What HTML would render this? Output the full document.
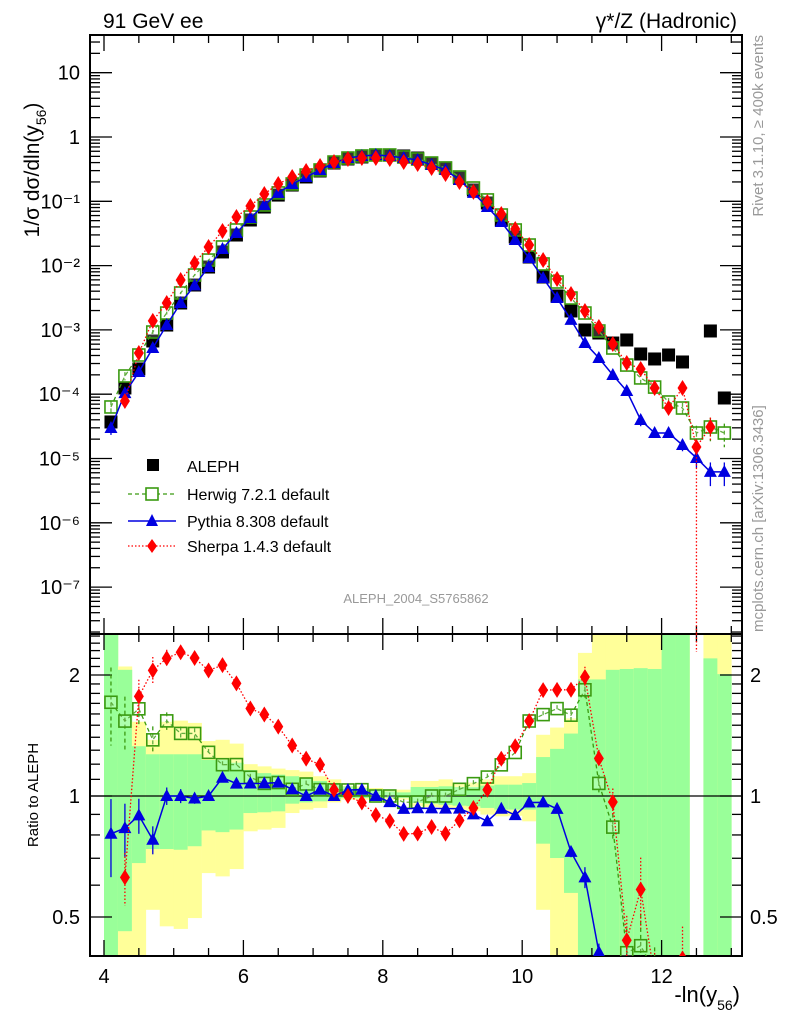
<!DOCTYPE html>
<html><head><meta charset="utf-8"><style>
html,body{margin:0;padding:0;background:#fff;overflow:hidden;width:786px;height:1024px;}
svg{display:block;position:absolute;left:0;top:0;overflow:hidden;font-family:"Liberation Sans",sans-serif;}
</style></head><body>
<svg id="chart" width="786" height="1024" viewBox="0 0 786 1024" xmlns="http://www.w3.org/2000/svg">
<g id="bands"></g>
<g id="grid"></g>
<g id="series"></g>
<text x="103" y="28" font-size="21">91 GeV ee</text>
<text x="737" y="28" font-size="21" text-anchor="end">γ*/Z (Hadronic)</text>
<text transform="translate(39,170) rotate(-90)" font-size="21" text-anchor="middle">1/σ  dσ/dln(y<tspan font-size="14" dy="7">56</tspan><tspan dy="-7">)</tspan></text>
<text transform="translate(38,795) rotate(-90)" font-size="15" text-anchor="middle">Ratio to ALEPH</text>
<text x="740" y="1002" font-size="22" text-anchor="end">-ln(y<tspan font-size="14" dy="8">56</tspan><tspan dy="-8">)</tspan></text>
<text transform="translate(763,35) rotate(-90)" font-size="15" fill="#999" text-anchor="end">Rivet 3.1.10, ≥ 400k events</text>
<text transform="translate(763,632) rotate(-90)" font-size="15" fill="#999">mcplots.cern.ch [arXiv:1306.3436]</text>
<text x="416" y="603" font-size="13" fill="#999" text-anchor="middle">ALEPH_2004_S5765862</text>
<g>
 <rect x="147" y="459" width="12" height="12" fill="#000"/>
 <text x="187" y="472" font-size="16">ALEPH</text>
 <line x1="128" y1="494" x2="176" y2="494" stroke="#3a9a10" stroke-width="1.3" stroke-dasharray="4,3"/>
 <rect x="146" y="488" width="12" height="12" fill="#fff" stroke="#3a9a10" stroke-width="1.6"/>
 <text x="187" y="500" font-size="16">Herwig 7.2.1 default</text>
 <line x1="128" y1="521" x2="176" y2="521" stroke="#0000e0" stroke-width="1.5"/>
 <path d="M152,514 L158,526 L146,526 Z" fill="#0000e0"/>
 <text x="187" y="527" font-size="16">Pythia 8.308 default</text>
 <line x1="128" y1="546" x2="176" y2="546" stroke="#f00" stroke-width="1.3" stroke-dasharray="1.5,2"/>
 <path d="M152,539 L157,546 L152,553 L147,546 Z" fill="#f00"/>
 <text x="187" y="552" font-size="16">Sherpa 1.4.3 default</text>
</g>
</svg>
<script>
const centers=[4.1,4.3,4.5,4.7,4.9,5.1,5.3,5.5,5.7,5.9,6.1,6.3,6.5,6.7,6.9,7.1,7.3,7.5,7.7,7.9,8.1,8.3,8.5,8.7,8.9,9.1,9.3,9.5,9.7,9.9,10.1,10.3,10.5,10.7,10.9,11.1,11.3,11.5,11.7,11.9,12.1,12.3,12.5,12.7,12.9];
const aleph=[3.7e-5,1.25e-4,2.47e-4,6.72e-4,1.19e-3,2.62e-3,4.99e-3,9.5e-3,0.0163,0.0299,0.0512,0.0815,0.125,0.179,0.239,0.296,0.394,0.455,0.489,0.525,0.525,0.507,0.471,0.394,0.330,0.230,0.150,0.0942,0.0512,0.0279,0.0136,0.00665,0.00337,0.00197,0.000996,0.000895,0.000625,0.000697,0.000422,0.000353,0.000407,0.000317,null,0.000962,0.0000873];
const herwig=[6.33e-5,1.92e-4,4.07e-4,9.27e-4,1.83e-3,3.75e-3,7.14e-3,0.0122,0.0195,0.0358,0.057,0.0876,0.135,0.186,0.256,0.307,0.408,0.471,0.507,0.525,0.525,0.489,0.455,0.394,0.330,0.239,0.161,0.105,0.0612,0.0358,0.0209,0.0106,0.00556,0.00313,0.00183,0.000962,0.000523,0.000284,0.000179,0.000129,0.0000757,0.000061,0.0000249,0.0000309,0.0000249];
const pythia=[2.98e-5,1.04e-4,2.21e-4,5.23e-4,1.19e-3,2.62e-3,4.92e-3,9.5e-3,0.0181,0.0321,0.055,0.0876,0.135,0.186,0.239,0.307,0.394,0.471,0.507,0.525,0.507,0.471,0.439,0.367,0.307,0.214,0.135,0.0815,0.0476,0.025,0.0131,0.00641,0.00313,0.00143,0.000625,0.000366,0.000199,0.000112,0.0000397,0.0000249,0.0000249,0.0000162,0.0000102,0.0000062,0.0000062];
const sherpa=[null,7.84e-5,4.37e-4,1.38e-3,2.62e-3,5.97e-3,0.011,0.0195,0.0345,0.057,0.0845,0.13,0.186,0.239,0.296,0.354,0.408,0.455,0.471,0.471,0.455,0.408,0.38,0.33,0.266,0.2,0.14,0.0976,0.0634,0.0371,0.0209,0.0122,0.00619,0.00362,0.00197,0.00111,0.000604,0.000305,0.000247,0.000125,0.000061,0.000125,0.0000151,0.0000309,null];
const mcRelErr=[0.22,0.15,0.1,0.08,0.05,0.04,0.03,0.02,0.02,0.02,0.02,0.02,0.02,0.02,0.02,0.02,0.02,0.02,0.02,0.02,0.02,0.02,0.02,0.02,0.02,0.02,0.02,0.02,0.02,0.02,0.02,0.02,0.02,0.03,0.06,0.05,0.08,0.15,0.2,0.15,0.15,0.2,0.3,0.4,0.4];
const yellowHi=[3,2.10,1.53,1.38,1.53,1.54,1.52,1.37,1.38,1.35,1.20,1.185,1.17,1.16,1.15,1.12,1.10,1.061,1.057,1.047,1.037,1.037,1.09,1.09,1.10,1.08,1.08,1.10,1.12,1.12,1.14,1.42,1.48,1.56,2.27,3,3,3,3,3,3,3,null,3,3];
const greenHi=[3,2.06,1.33,1.27,1.27,1.27,1.27,1.23,1.23,1.21,1.16,1.14,1.13,1.12,1.11,1.09,1.077,1.057,1.047,1.037,1.027,1.021,1.053,1.053,1.057,1.053,1.053,1.061,1.067,1.067,1.077,1.25,1.31,1.43,1.95,1.95,2.06,2.07,2.08,2.07,3,3,null,2.20,2.01];
const greenLo=[0.3,0.461,0.681,0.738,0.738,0.735,0.75,0.821,0.813,0.825,0.907,0.911,0.916,0.957,0.964,0.970,0.979,0.989,0.989,0.989,0.989,0.989,0.961,0.957,0.951,0.946,0.943,0.934,0.925,0.925,0.925,0.761,0.701,0.574,0.3,0.3,0.3,0.3,0.3,0.3,0.3,0.3,null,0.3,0.3];
const yellowLo=[0.3,0.3,0.3,0.521,0.474,0.467,0.497,0.643,0.631,0.658,0.817,0.825,0.833,0.907,0.925,0.934,0.964,0.979,0.979,0.979,0.979,0.979,0.943,0.939,0.934,0.925,0.916,0.899,0.890,0.893,0.865,0.521,0.3,0.3,0.3,0.3,0.3,0.3,0.3,0.3,0.3,0.3,null,0.3,0.3];
const mainTickLabels=["10","1","10⁻¹","10⁻²","10⁻³","10⁻⁴","10⁻⁵","10⁻⁶","10⁻⁷"];
const mainTickExps=[1,0,-1,-2,-3,-4,-5,-6,-7];
const xTicks=[4,6,8,10,12];
const ratioTicks=[0.5,1,2];

const NS="http://www.w3.org/2000/svg";
const L=90,R=742,T=35,MB=634,RT=634,RB=956;
const X=v=>104+(v-4)*69.7;
const Y=v=>137-Math.log10(v)*64.3;
const RY=r=>796-Math.log2(r)*121;
const clampR=y=>Math.max(RT,Math.min(RB,y));
function mk(tag,attrs,parent){const e=document.createElementNS(NS,tag);for(const k in attrs)e.setAttribute(k,attrs[k]);parent.appendChild(e);return e;}
const bands=document.getElementById('bands'),grid=document.getElementById('grid'),series=document.getElementById('series');

centers.forEach((c,i)=>{
  if(yellowHi[i]===null)return;
  const x0=X(c-0.1),x1=X(c+0.1);
  const ya=clampR(RY(yellowHi[i])),yb=clampR(RY(yellowLo[i]));
  const yr=mk('rect',{x:x0,y:ya,width:x1-x0+0.3,height:yb-ya,fill:'#ffff99'},bands);
  
  
  const ga=clampR(RY(greenHi[i])),gb=clampR(RY(greenLo[i]));
  const gr=mk('rect',{x:x0,y:ga,width:x1-x0+0.3,height:gb-ga,fill:'#99ff99'},bands);
  
  
});

const f1=mk('rect',{x:L,y:T,width:R-L,height:MB-T,fill:'none',stroke:'#000','stroke-width':2},grid);

const f2=mk('rect',{x:L,y:RT,width:R-L,height:RB-RT,fill:'none',stroke:'#000','stroke-width':2},grid);

const one=mk('line',{x1:L,x2:R,y1:RY(1),y2:RY(1),stroke:'#000','stroke-width':1.3},grid);


for(let v=4;v<=13.01;v+=0.5){
  const major=Math.abs(v-Math.round(v/2)*2)<1e-6;const len=major?16:8;const x=X(v);
  for(const [y0,d] of [[T,1],[MB,-1],[RT,1],[RB,-1]]) mk('line',{x1:x,x2:x,y1:y0,y2:y0+d*len,stroke:'#000','stroke-width':1.3},grid);
}
xTicks.forEach(v=>{const t=mk('text',{x:X(v),y:983,'font-size':20,'text-anchor':'middle'},grid);t.textContent=v;
  });
for(let e=-8;e<=1;e++){for(let m=1;m<=9;m++){const v=m*Math.pow(10,e);const y=Y(v);if(y<T||y>MB)continue;const len=m===1?22:10;
  mk('line',{x1:L,x2:L+len,y1:y,y2:y,stroke:'#000','stroke-width':1.3},grid);mk('line',{x1:R,x2:R-len,y1:y,y2:y,stroke:'#000','stroke-width':1.3},grid);}}
mainTickExps.forEach((e,i)=>{const t=mk('text',{x:80,y:Y(Math.pow(10,e))+7,'font-size':20,'text-anchor':'end'},grid);t.textContent=mainTickLabels[i];
  });
for(let v=0.4;v<=2.55;v+=0.1){const y=RY(v);if(y<RT||y>RB)continue;const major=[0.5,1,2].some(m=>Math.abs(m-v)<1e-6);const len=major?22:10;
  mk('line',{x1:L,x2:L+len,y1:y,y2:y,stroke:'#000','stroke-width':1.3},grid);mk('line',{x1:R,x2:R-len,y1:y,y2:y,stroke:'#000','stroke-width':1.3},grid);}
ratioTicks.forEach(v=>{const t=mk('text',{x:80,y:RY(v)+7,'font-size':20,'text-anchor':'end'},grid);t.textContent=v;
  
  const t2=mk('text',{x:750,y:RY(v)+7,'font-size':20},grid);t2.textContent=v;
  });

function marker(kind,x,y,col,g){
  if(kind==='sq')return mk('rect',{x:x-6.5,y:y-6.5,width:13,height:13,fill:'#000'},g);
  if(kind==='osq')return mk('rect',{x:x-6,y:y-6,width:12,height:12,fill:'#fff','fill-opacity':0.2,stroke:col,'stroke-width':1.6},g);
  if(kind==='tri')return mk('path',{d:`M${x},${y-7}L${x+6.5},${y+5}L${x-6.5},${y+5}Z`,fill:col},g);
  return mk('path',{d:`M${x},${y-8}L${x+5},${y}L${x},${y+8}L${x-5},${y}Z`,fill:col},g);
}
const defs=[
 {name:'herwig',vals:herwig,col:'#3a9a10',dash:'4,3',kind:'osq'},
 {name:'pythia',vals:pythia,col:'#0000e0',dash:'',kind:'tri'},
 {name:'sherpa',vals:sherpa,col:'#f00',dash:'1.5,2',kind:'dia'},
];
const ga=mk('g',{},series);
aleph.forEach((v,i)=>{if(v===null)return;const m=marker('sq',X(centers[i]),Y(v),'#000',ga);
  });
defs.forEach(d=>{
  const g=mk('g',{},series);
  let pts=[];d.vals.forEach((v,i)=>{if(v!==null)pts.push([X(centers[i]),Y(v)]);});
  const ln=mk('path',{d:'M'+pts.map(p=>p.join(',')).join('L'),fill:'none',stroke:d.col,'stroke-width':d.kind==='tri'?1.5:1.3,'stroke-dasharray':d.dash},g);
  
  d.vals.forEach((v,i)=>{if(v===null)return;const x=X(centers[i]);const e=mcRelErr[i];
    const lo=(d.name==='sherpa'&&centers[i]===12.5)?MB:Y(v*(1-e));
    mk('line',{x1:x,x2:x,y1:Y(v*(1+e)),y2:Math.min(lo,MB),stroke:d.col,'stroke-width':1.3,'stroke-dasharray':d.dash},g);
    const m=marker(d.kind,x,Y(v),d.col,g);});
  let rp=[];d.vals.forEach((v,i)=>{if(v===null||aleph[i]===null)return;rp.push([X(centers[i]),RY(v/aleph[i]),v/aleph[i],i]);});
  const cp=mk('clipPath',{id:'cr'+d.name},g);mk('rect',{x:L,y:RT,width:R-L,height:RB-RT},cp);
  const rg=mk('g',{'clip-path':`url(#cr${d.name})`},g);
  
  mk('path',{d:'M'+rp.map(p=>p[0]+','+p[1]).join('L'),fill:'none',stroke:d.col,'stroke-width':d.kind==='tri'?1.5:1.3,'stroke-dasharray':d.dash},rg);
  rp.forEach(p=>{const e=mcRelErr[p[3]];mk('line',{x1:p[0],x2:p[0],y1:RY(p[2]*(1+e)),y2:RY(Math.max(p[2]*(1-e),0.01)),stroke:d.col,'stroke-width':1.3,'stroke-dasharray':d.dash},rg);
    const m=marker(d.kind,p[0],p[1],d.col,rg);});
  if(d.name==='sherpa'){mk('line',{x1:X(12.5),x2:X(12.5),y1:RT,y2:RT+18,stroke:d.col,'stroke-width':1.3,'stroke-dasharray':d.dash},rg);}
});
</script>
</body></html>
